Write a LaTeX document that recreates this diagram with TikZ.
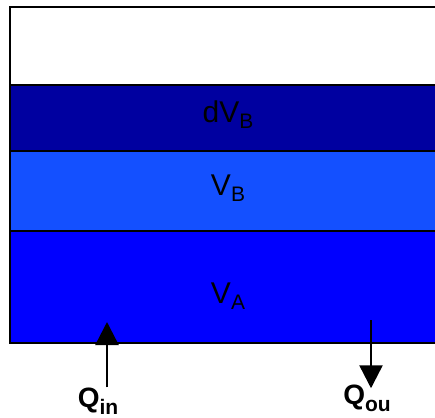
\documentclass[tikz,border=0pt]{standalone}
\usepackage{fontspec}
\setmainfont{Liberation Sans}
\usetikzlibrary{arrows.meta}

\definecolor{dvbblue}{HTML}{0000A0}
\definecolor{vbblue}{HTML}{1450FF}
\definecolor{vablue}{HTML}{0000FF}
\newcommand{\lowsub}[2][6pt]{\raisebox{-#1}{#2}}

\begin{document}
\begin{tikzpicture}[
        x=1pt, y=-1pt,
        >={Triangle[length=23pt,width=23pt]},
        layer/.style={draw=black, line width=2.5pt},
        vol/.style={anchor=base, inner sep=0pt, font=\fontsize{30}{34}\selectfont},
        flowlbl/.style={anchor=base, inner sep=0pt, font=\fontsize{28}{32}\selectfont\bfseries},
        arrow/.style={->, line width=2.5pt}
    ]
    \useasboundingbox (0,0) rectangle (435,417);
    \clip (0,0) rectangle (435,417);

    % tank layers, top to bottom
    \draw[layer, fill=white] (10,7) rectangle (446,85);
    \draw[layer, fill=dvbblue] (10,85) rectangle (446,151);
    \draw[layer, fill=vbblue] (10,151) rectangle (446,231);
    \draw[layer, fill=vablue] (10,231) rectangle (446,343);

    \node[vol] (dvb) at (228,122) {dV\lowsub{\fontsize{21}{24}\selectfont B}};
    \node[vol] (vb) at (228,195) {V\lowsub{\fontsize{21}{24}\selectfont B}};
    \node[vol] (va) at (228,303) {V\lowsub{\fontsize{21}{24}\selectfont A}};

    % flows in and out
    \node[flowlbl] (qin) at (98,407) {Q\lowsub[7pt]{\fontsize{21}{24}\selectfont in}};
    \node[flowlbl] (qou) at (367,404) {Q\lowsub[7pt]{\fontsize{21}{24}\selectfont ou}};
    \coordinate (inlet) at (107,322);
    \coordinate (outlet) at (371,320);

    \draw[arrow] ([xshift=9pt]qin.north) -- (inlet);
    \draw[arrow] (outlet) -- ([xshift=4pt,yshift=-4pt]qou.north);
\end{tikzpicture}
\end{document}
